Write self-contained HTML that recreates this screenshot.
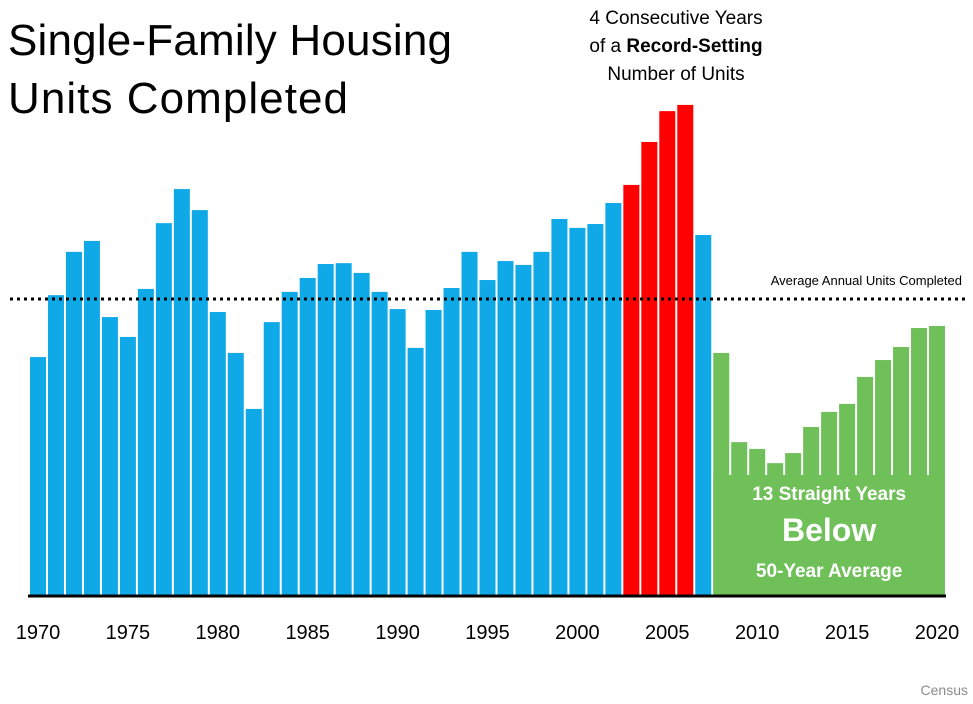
<!DOCTYPE html>
<html><head><meta charset="utf-8"><style>
body{margin:0;background:#fff;font-family:"Liberation Sans","DejaVu Sans",sans-serif}
svg{display:block}
</style></head><body>
<svg width="973" height="704" id="chart">
<text x="8" y="55" font-size="44" fill="#000" textLength="444">Single-Family Housing</text>
<text x="8" y="113" font-size="44" fill="#000" textLength="340">Units Completed</text>
<g font-size="19" text-anchor="middle" fill="#000">
<text x="676" y="24">4 Consecutive Years</text>
<text x="676" y="52">of a <tspan font-weight="bold">Record-Setting</tspan></text>
<text x="676" y="80">Number of Units</text>
</g>
<g id="bars"></g>
<g id="labels"></g>
<text x="968" y="695" font-size="14" fill="#8c8c8c" text-anchor="end">Census</text>
</svg>
<script>
const years=[1970,1971,1972,1973,1974,1975,1976,1977,1978,1979,1980,1981,1982,1983,1984,1985,1986,1987,1988,1989,1990,1991,1992,1993,1994,1995,1996,1997,1998,1999,2000,2001,2002,2003,2004,2005,2006,2007,2008,2009,2010,2011,2012,2013,2014,2015,2016,2017,2018,2019,2020];
const units=[803,1012,1158,1195,938,871,1033,1255,1370,1299,955,817,628,921,1023,1070,1117,1120,1087,1023,965,834,962,1036,1158,1063,1127,1114,1158,1269,1239,1252,1323,1384,1529,1633,1654,1215,817,516,493,445,479,567,618,645,736,793,837,901,908];
const average=[999];
const tickYears=[1970,1975,1980,1985,1990,1995,2000,2005,2010,2015,2020];
const NS="http://www.w3.org/2000/svg";
const base=595, k=0.2963, x0=30, step=17.98, bw=16;
const xs=y=>x0+(y-1970)*step;
const ys=v=>base-v*k;
function mk(t,a,p){const e=document.createElementNS(NS,t);for(const n in a)e.setAttribute(n,a[n]);p.appendChild(e);return e;}
const svg=document.getElementById('chart');
const bars=document.getElementById('bars');
years.forEach((y,i)=>{
 const col=y>=2003&&y<=2006?'#ff0000':(y>=2008?'#70c05a':'#0fa9e8');
 const r=mk('rect',{x:xs(y),y:ys(units[i]),width:bw,height:base-ys(units[i]),fill:col},bars);
 
 
});
const gp=mk('rect',{x:xs(2008),y:475,width:xs(2020)+bw-xs(2008),height:base-475,fill:'#70c05a'},bars);


const tg=mk('g',{'text-anchor':'middle',fill:'#fff','font-weight':'bold'},bars);


const cx=(xs(2008)+xs(2020)+bw)/2;
[['13 Straight Years',500,19],['Below',541,32],['50-Year Average',577,19]].forEach(d=>{const t=mk('text',{x:cx,y:d[1],'font-size':d[2]},tg);t.textContent=d[0];});
const al=mk('line',{x1:10,x2:968,y1:ys(average[0]),y2:ys(average[0]),stroke:'#000','stroke-width':3,'stroke-dasharray':'3,4'},svg);


const at=mk('text',{x:962,y:ys(average[0])-14,'font-size':13,'text-anchor':'end',fill:'#000'},svg);
at.textContent='Average Annual Units Completed';


const ax=mk('line',{x1:28,x2:946,y1:base+1,y2:base+1,stroke:'#000','stroke-width':3},svg);


const lg=document.getElementById('labels');
tickYears.forEach(y=>{const t=mk('text',{x:xs(y)+bw/2,y:639,'font-size':20,'text-anchor':'middle',fill:'#000'},lg);t.textContent=y;
 
 });
</script>
</body></html>
